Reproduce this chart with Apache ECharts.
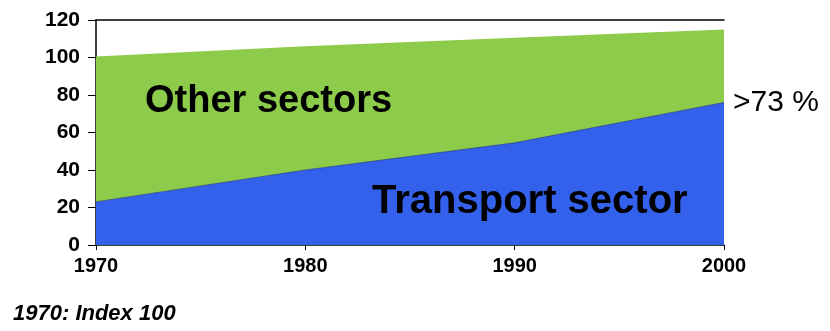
<!DOCTYPE html>
<html>
<head>
<meta charset="utf-8">
<script src="https://cdn.jsdelivr.net/npm/echarts@6/dist/echarts.min.js"></script>
<style>
html,body{margin:0;padding:0;background:#fff;}
#chart{width:830px;height:331px;}
</style>
</head>
<body>
<div id="chart"></div>
<script>
const years = ['1970', '1980', '1990', '2000'];
const transportValues = [23, 40, 54.5, 76];
const otherValues = [77.5, 66, 56, 39];
const yTicks = [0, 20, 40, 60, 80, 100, 120];

const chart = echarts.init(document.getElementById('chart'), null, {renderer: 'canvas'});
const font = '"Liberation Sans", Arial, sans-serif';

chart.setOption({
  animation: false,
  backgroundColor: '#ffffff',
  grid: {left: 96, right: 106, top: 20, bottom: 86, containLabel: false},
  xAxis: [{
    type: 'category', data: years, boundaryGap: false,
    axisLine: {show: true, lineStyle: {color: '#000', width: 1.5}},
    axisTick: {show: true, length: 5, lineStyle: {color: '#000'}},
    axisLabel: {color: '#000', fontFamily: font, fontWeight: 'bold', fontSize: 20, margin: 11},
    splitLine: {show: false}
  }, {
    type: 'category', data: years, boundaryGap: false, position: 'top',
    axisLine: {show: true, onZero: false, lineStyle: {color: '#000', width: 1.5}},
    axisTick: {show: false}, axisLabel: {show: false}, splitLine: {show: false}
  }],
  yAxis: {
    type: 'value', min: yTicks[0], max: yTicks[yTicks.length - 1], interval: 20,
    axisLine: {show: true, lineStyle: {color: '#000', width: 1.5}},
    axisTick: {show: true, length: 8, lineStyle: {color: '#000'}},
    axisLabel: {color: '#000', fontFamily: font, fontWeight: 'bold', fontSize: 21, margin: 16},
    splitLine: {show: false}
  },
  series: [{
    name: 'Transport sector', type: 'line', stack: 'total', symbol: 'none',
    data: transportValues,
    lineStyle: {width: 1, color: '#1f3b7a', opacity: 0.7},
    areaStyle: {color: '#3461EC', opacity: 1},
    z: 3
  }, {
    name: 'Other sectors', type: 'line', stack: 'total', symbol: 'none',
    data: otherValues,
    lineStyle: {width: 0},
    areaStyle: {color: '#8DCB4A', opacity: 1},
    z: 2
  }],
  graphic: [
    {type: 'text', z: 100, left: 145, top: 83, style: {text: 'Other sectors', font: 'bold 38px ' + font, fill: '#000'}},
    {type: 'text', z: 100, left: 372, top: 182, style: {text: 'Transport sector', font: 'bold 40px ' + font, fill: '#000'}},
    {type: 'text', z: 100, left: 733, top: 88, style: {text: '>73 %', font: '30px ' + font, fill: '#000'}},
    {type: 'text', z: 100, left: 13, top: 303, style: {text: '1970: Index 100', font: 'italic bold 22px ' + font, fill: '#000'}}
  ]
});
</script>
</body>
</html>
